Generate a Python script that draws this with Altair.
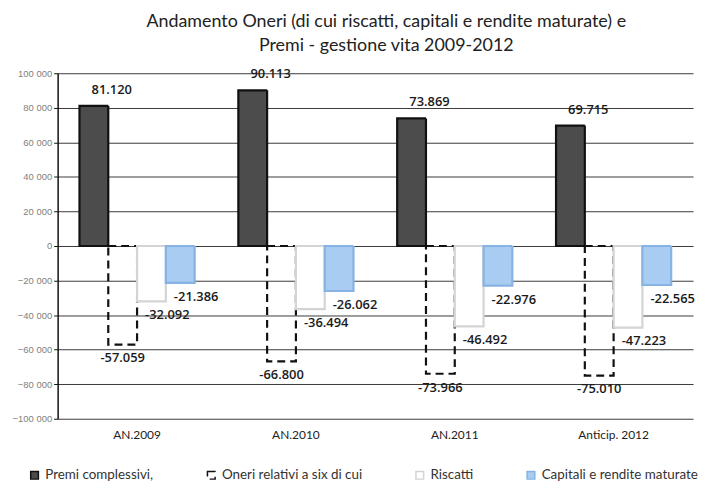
import altair as alt
import pandas as pd

anni = ["AN.2009", "AN.2010", "AN.2011", "Anticip. 2012"]
serie = ["Premi complessivi,", "Oneri relativi a six di cui", "Riscatti", "Capitali e rendite maturate"]
premi = [81120, 90113, 73869, 69715]
oneri = [-57059, -66800, -73966, -75010]
riscatti = [-32092, -36494, -46492, -47223]
capitali = [-21386, -26062, -22976, -22565]
y_ticks = [100000, 80000, 60000, 40000, 20000, 0, -20000, -40000, -60000, -80000, -100000]

fill_colors = ["#4c4c4c", "transparent", "#ffffff", "#a8ccf2"]
stroke_colors = ["#111111", "#111111", "#d4d4d4", "#86b3e3"]
stroke_dashes = [[1, 0], [8, 5], [1, 0], [1, 0]]


def it_fmt(v):
    return f"{v:,}".replace(",", ".")


rows = []
for name, vals in zip(serie, [premi, oneri, riscatti, capitali]):
    for anno, v in zip(anni, vals):
        rows.append({"anno": anno, "serie": name, "valore": v, "etichetta": it_fmt(v)})
df = pd.DataFrame(rows)

x_enc = alt.X("anno:N", sort=anni,
              scale=alt.Scale(paddingInner=0.275, paddingOuter=0.1375),
              axis=alt.Axis(title=None, domain=False, ticks=False, labelAngle=0,
                            labelPadding=11, labelFontSize=12, labelFont="Lato",
                            labelColor="#222222"))
xo_enc = alt.XOffset("serie:N", sort=serie, scale=alt.Scale(paddingInner=0, paddingOuter=0))
y_enc = alt.Y("valore:Q", scale=alt.Scale(domain=[-100000, 100000], nice=False, zero=True),
              axis=alt.Axis(title=None, values=y_ticks, grid=True, gridColor="#3a3a3a",
                            gridWidth=1, domainColor="#111111", domainWidth=1.5,
                            tickColor="#111111", tickSize=4, labelFontSize=9.5,
                            labelColor="#808080", labelFont="Liberation Sans",
                            labelOverlap=False, minExtent=50,
                            labelExpr="replace(format(datum.value, ',d'), ',', ' ')"))

base = alt.Chart(df)

bars = base.mark_bar(strokeWidth=2.2).encode(
    x=x_enc,
    xOffset=xo_enc,
    y=y_enc,
    fill=alt.Fill("serie:N", sort=serie, scale=alt.Scale(domain=serie, range=fill_colors),
                  legend=alt.Legend(title=None)),
    stroke=alt.Stroke("serie:N", sort=serie, scale=alt.Scale(domain=serie, range=stroke_colors),
                      legend=alt.Legend(title=None)),
    strokeDash=alt.StrokeDash("serie:N", sort=serie,
                              scale=alt.Scale(domain=serie, range=stroke_dashes),
                              legend=alt.Legend(title=None)),
)

txt_style = dict(font="Open Sans", fontSize=13, fontWeight=600, color="#1a1a1a")

lab_premi = base.transform_filter(alt.datum.serie == serie[0]).mark_text(
    baseline="bottom", dy=-9, dx=18, **txt_style).encode(
    x=x_enc, xOffset=xo_enc, y=y_enc, text="etichetta:N")

lab_oneri = base.transform_filter(alt.datum.serie == serie[1]).mark_text(
    baseline="top", dy=8, dx=0, **txt_style).encode(
    x=x_enc, xOffset=xo_enc, y=y_enc, text="etichetta:N")

lab_rest = base.transform_filter(
    (alt.datum.serie == serie[2]) | (alt.datum.serie == serie[3])).mark_text(
    baseline="top", dy=8, dx=16, **txt_style).encode(
    x=x_enc, xOffset=xo_enc, y=y_enc, text="etichetta:N")

chart = alt.layer(bars, lab_premi, lab_oneri, lab_rest).properties(
    width=640, height=348,
    padding={"left": 0, "top": 3, "right": 0, "bottom": 0},
    title=alt.TitleParams(
        ["Andamento Oneri (di cui riscatti, capitali e rendite maturate) e",
         "Premi - gestione vita 2009-2012"],
        font="Lato", fontSize=18, fontWeight="normal", lineHeight=25,
        color="#222222", offset=13, dx=11),
).configure_view(stroke=None).configure_legend(
    orient="none", legendX=-30, legendY=398, direction="horizontal", columns=4,
    columnPadding=50, symbolType="square", symbolSize=60, labelFontSize=13.5,
    labelFont="Lato", labelColor="#333333", labelLimit=250, padding=0,
)

chart.save("out.html", embed_options={"renderer": "svg", "actions": False})
